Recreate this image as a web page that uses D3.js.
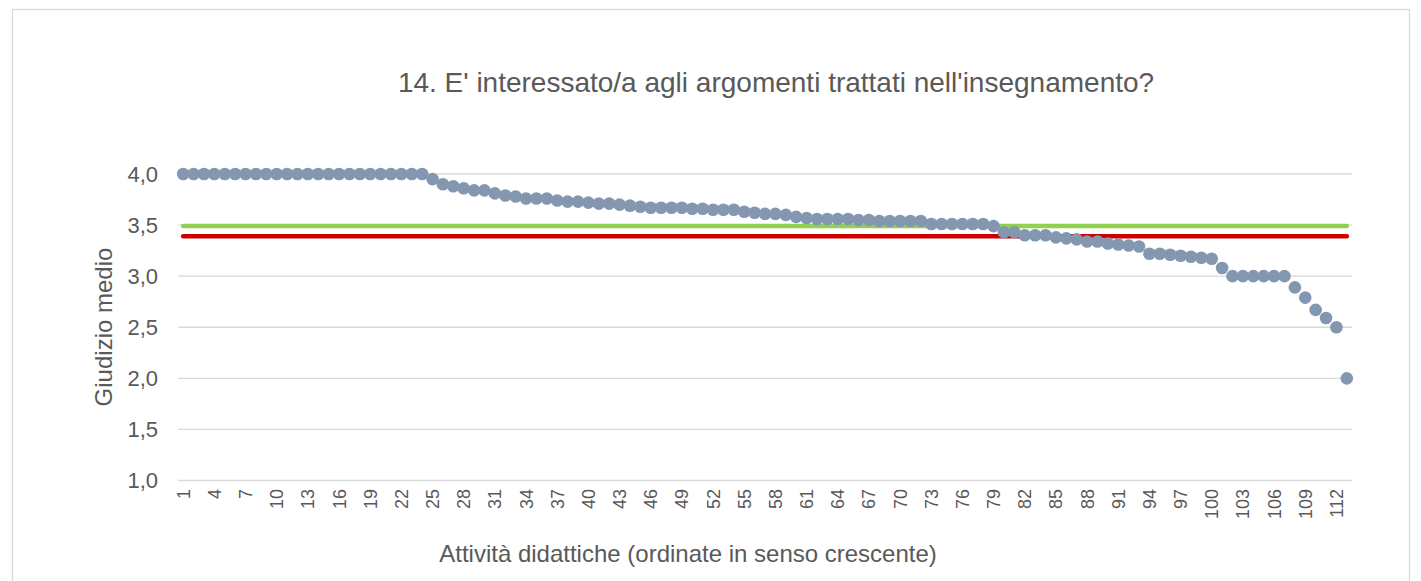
<!DOCTYPE html>
<meta charset="utf-8">
<style>
  body { margin: 0; background: #fff; }
  svg text { font-family: "Liberation Sans", Arial, sans-serif; fill: #595959; }
  .grid line { stroke: #d9d9d9; stroke-width: 1.3; }
</style>
<body>
<svg width="1421" height="581"></svg>
<script src="https://d3js.org/d3.v7.min.js"></script>
<script>
// giudizio medio per attività, già ordinato
var scores = [
  4.00, 4.00, 4.00, 4.00, 4.00, 4.00, 4.00, 4.00, 4.00, 4.00,
  4.00, 4.00, 4.00, 4.00, 4.00, 4.00, 4.00, 4.00, 4.00, 4.00,
  4.00, 4.00, 4.00, 4.00, 3.95, 3.90, 3.88, 3.86, 3.84, 3.84,
  3.81, 3.79, 3.78, 3.76, 3.76, 3.76, 3.74, 3.73, 3.73, 3.72,
  3.71, 3.71, 3.70, 3.69, 3.68, 3.67, 3.67, 3.67, 3.67, 3.66,
  3.66, 3.65, 3.65, 3.65, 3.63, 3.62, 3.61, 3.61, 3.60, 3.58,
  3.57, 3.56, 3.56, 3.56, 3.56, 3.55, 3.55, 3.54, 3.54, 3.54,
  3.54, 3.54, 3.51, 3.51, 3.51, 3.51, 3.51, 3.51, 3.49, 3.43,
  3.43, 3.40, 3.40, 3.40, 3.38, 3.37, 3.36, 3.34, 3.34, 3.32,
  3.31, 3.30, 3.29, 3.22, 3.22, 3.21, 3.20, 3.19, 3.18, 3.17,
  3.08, 3.00, 3.00, 3.00, 3.00, 3.00, 3.00, 2.89, 2.79, 2.67,
  2.59, 2.50, 2.00
];
var activities = scores.map(function (d, i) { return i + 1; });
var xTickLabels = [1, 4, 7, 10, 13, 16, 19, 22, 25, 28, 31, 34, 37, 40, 43, 46, 49, 52, 55,
  58, 61, 64, 67, 70, 73, 76, 79, 82, 85, 88, 91, 94, 97, 100, 103, 106, 109, 112];
var yTicks = [1.0, 1.5, 2.0, 2.5, 3.0, 3.5, 4.0];
var mediaAteneo = 3.49;   // linea verde
var mediaCorso = 3.39;    // linea rossa

var margin = { top: 174, right: 69, bottom: 100, left: 178 },
    width = 1421,
    height = 581;

var svg = d3.select("svg");

// cornice
svg.append("rect")
  .attr("x", 12.5).attr("y", 9.5)
  .attr("width", 1397).attr("height", 620)
  .attr("fill", "none").attr("stroke", "#d9d9d9").attr("stroke-width", 1.3);

var x = d3.scaleBand().domain(activities).range([margin.left, width - margin.right]);
var y = d3.scaleLinear().domain([1, 4]).range([480.5, 174]);
var cx = function (d) { return x(d) + x.bandwidth() / 2; };

// griglia
svg.append("g").attr("class", "grid")
  .selectAll("line").data(yTicks).enter().append("line")
    .attr("x1", margin.left).attr("x2", width - margin.right)
    .attr("y1", function (d) { return y(d); })
    .attr("y2", function (d) { return y(d); });

// etichette asse y
svg.append("g").selectAll("text").data(yTicks).enter().append("text")
  .attr("x", 158).attr("y", function (d) { return y(d); })
  .attr("dy", "0.35em")
  .attr("text-anchor", "end")
  .style("font-size", "22px")
  .text(function (d) { return d3.format(".1f")(d).replace(".", ","); });

// etichette asse x
svg.append("g").selectAll("text").data(xTickLabels).enter().append("text")
  .attr("transform", function (d) { return "translate(" + (cx(d) + 6.5) + ",489) rotate(-90)"; })
  .attr("text-anchor", "end")
  .style("font-size", "18px")
  .text(function (d) { return d; });

// linee di riferimento
var first = activities[0], last = activities[activities.length - 1];
[[mediaAteneo, "#92d050"], [mediaCorso, "#cc0000"]].forEach(function (r) {
  svg.append("line")
    .attr("x1", cx(first)).attr("x2", cx(last))
    .attr("y1", y(r[0])).attr("y2", y(r[0]))
    .attr("stroke", r[1]).attr("stroke-width", 4.5)
    .attr("stroke-linecap", "round");
});

// punti
svg.append("g").selectAll("circle").data(scores).enter().append("circle")
  .attr("cx", function (d, i) { return cx(activities[i]); })
  .attr("cy", function (d) { return y(d); })
  .attr("r", 6.3)
  .attr("fill", "#8497b0");

// titoli
svg.append("text")
  .attr("x", 776).attr("y", 92)
  .attr("text-anchor", "middle")
  .style("font-size", "28px")
  .text("14. E' interessato/a agli argomenti trattati nell'insegnamento?");

svg.append("text")
  .attr("transform", "translate(112,327) rotate(-90)")
  .attr("text-anchor", "middle")
  .style("font-size", "24px")
  .text("Giudizio medio");

svg.append("text")
  .attr("x", 688).attr("y", 562)
  .attr("text-anchor", "middle")
  .style("font-size", "24px")
  .text("Attività didattiche (ordinate in senso crescente)");
</script>
</body>
